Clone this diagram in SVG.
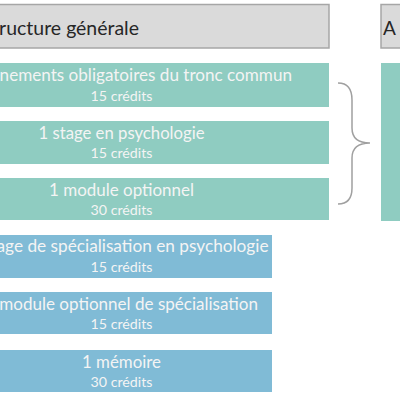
<svg xmlns="http://www.w3.org/2000/svg" width="400" height="400" viewBox="0 0 400 400">
<style>
.hdr{fill:#dadada;stroke:#a6a6a6;stroke-width:1.5}
.hdrt{font-family:Lato,"Liberation Sans",sans-serif;font-size:19px;fill:#262626}
.teal{fill:#8fccc1}
.blue{fill:#80bbd6}
.main{font-family:Lato,"Liberation Sans",sans-serif;font-size:17px;fill:#f4f4f4;text-anchor:middle}
.cred{font-family:Lato,"Liberation Sans",sans-serif;font-size:12.5px;fill:#f4f4f4;text-anchor:middle}
.brace{fill:none;stroke:#a0a0a0;stroke-width:1.5}
</style>
<rect width="400" height="400" fill="#ffffff"/>
<g id="header-structure">
<rect class="hdr" x="-10" y="4.5" width="339" height="43.5"/>
<text class="hdrt" x="-18" y="35" textLength="157" lengthAdjust="spacingAndGlyphs">Structure générale</text>
</g>
<g id="header-right">
<rect class="hdr" x="381" y="4.5" width="30" height="43.5"/>
<text class="hdrt" x="383" y="35">A</text>
</g>
<g id="tronc-commun">
<rect class="teal" x="-10" y="63" width="339" height="44"/>
<text class="main" x="121.5" y="81" textLength="341" lengthAdjust="spacingAndGlyphs">Enseignements obligatoires du tronc commun</text>
<text class="cred" x="121.5" y="101" textLength="62" lengthAdjust="spacingAndGlyphs">15 crédits</text>
</g>
<g id="stage-psychologie">
<rect class="teal" x="-10" y="121" width="339" height="43"/>
<text class="main" x="121.5" y="139" textLength="166" lengthAdjust="spacingAndGlyphs">1 stage en psychologie</text>
<text class="cred" x="121.5" y="158" textLength="62" lengthAdjust="spacingAndGlyphs">15 crédits</text>
</g>
<g id="module-optionnel">
<rect class="teal" x="-10" y="178" width="339" height="42"/>
<text class="main" x="121.5" y="196" textLength="145" lengthAdjust="spacingAndGlyphs">1 module optionnel</text>
<text class="cred" x="121.5" y="215" textLength="62" lengthAdjust="spacingAndGlyphs">30 crédits</text>
</g>
<g id="right-box">
<rect class="teal" x="381" y="63" width="30" height="158"/>
</g>
<g id="stage-specialisation">
<rect class="blue" x="-10" y="235" width="282" height="43"/>
<text class="main" x="118.5" y="252" textLength="300" lengthAdjust="spacingAndGlyphs">1 stage de spécialisation en psychologie</text>
<text class="cred" x="121.5" y="272" textLength="62" lengthAdjust="spacingAndGlyphs">15 crédits</text>
</g>
<g id="module-specialisation">
<rect class="blue" x="-10" y="292" width="282" height="42"/>
<text class="main" x="121.5" y="310" textLength="273" lengthAdjust="spacingAndGlyphs">1 module optionnel de spécialisation</text>
<text class="cred" x="121.5" y="329" textLength="62" lengthAdjust="spacingAndGlyphs">15 crédits</text>
</g>
<g id="memoire">
<rect class="blue" x="-10" y="350" width="282" height="42"/>
<text class="main" x="121.5" y="368" textLength="79" lengthAdjust="spacingAndGlyphs">1 mémoire</text>
<text class="cred" x="121.5" y="387" textLength="62" lengthAdjust="spacingAndGlyphs">30 crédits</text>
</g>
<g id="connectors">
<path class="brace" d="M338,83 C348,83 352,90 352,100 L352,128 C352,138 358,143 370,143 C358,143 352,148 352,158 L352,188 C352,198 348,204 338,204"/>
</g>
</svg>
